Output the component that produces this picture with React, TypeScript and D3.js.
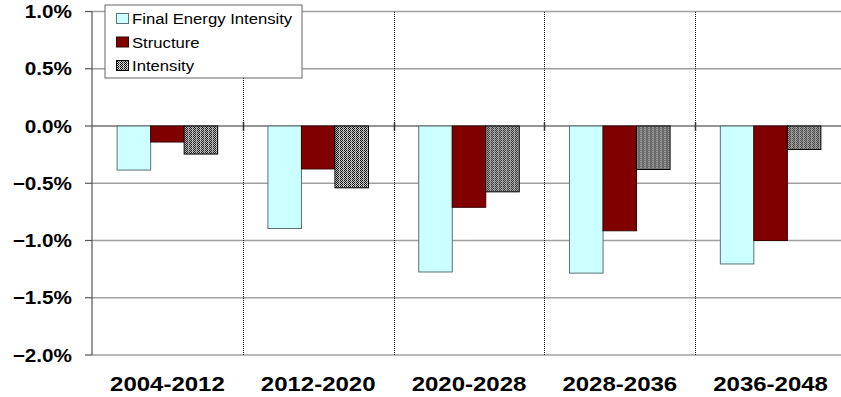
import React from 'react';
import * as d3 from 'd3';

const W = 841;
const H = 397;
const MARGIN = { top: 11.5, bottom: 42, left: 92, right: -5 };

const categories = ['2004-2012', '2012-2020', '2020-2028', '2028-2036', '2036-2048'];
const seriesNames = ['Final Energy Intensity', 'Structure', 'Intensity'];
const finalEnergyIntensity = [-0.385, -0.895, -1.275, -1.285, -1.205];
const structure = [-0.14, -0.375, -0.71, -0.915, -1.0];
const intensity = [-0.245, -0.54, -0.575, -0.38, -0.205];
const yTicks = [-2.0, -1.5, -1.0, -0.5, 0.0, 0.5, 1.0];

const FONT = '"Liberation Sans", Arial, sans-serif';
const STRETCH = 1.15;

export default function App() {
  const series = [finalEnergyIntensity, structure, intensity];

  const y = d3.scaleLinear().domain([-2, 1]).range([H - MARGIN.bottom, MARGIN.top]);
  const x0 = d3
    .scaleBand<string>()
    .domain(categories)
    .range([MARGIN.left, W - MARGIN.right])
    .paddingInner(1 / 3)
    .paddingOuter(1 / 6);
  const x1 = d3.scaleBand<string>().domain(seriesNames).range([0, x0.bandwidth()]);
  const step = x0.step();
  const fmt = d3.format('.1f');

  const fills = ['#ccffff', '#800000', 'url(#checker)'];
  const strokes = ['#587373', '#3a0000', '#000'];

  // dotted separators between category groups, snapped to pixel
  const boundaries = categories
    .slice(1)
    .map((c) => Math.round((x0(c) ?? 0) - (step - x0.bandwidth()) / 2) + 0.5);
  const y0 = y(0);

  return (
    <svg
      width={W}
      height={H}
      viewBox={`0 0 ${W} ${H}`}
      style={{ position: 'absolute', left: 0, top: 0, background: '#fff' }}
    >
      <defs>
        <pattern id="checker" width={4} height={2} patternUnits="userSpaceOnUse">
          <rect width={4} height={2} fill="#999" />
          <rect x={0} y={0} width={1} height={1} fill="#000" />
          <rect x={2} y={0} width={1} height={1} fill="#000" />
          <rect x={1} y={1} width={1} height={1} fill="#000" />
          <rect x={3} y={1} width={1} height={1} fill="#666" />
          <rect x={3} y={0} width={1} height={1} fill="#eee" />
          <rect x={1} y={0} width={1} height={1} fill="#ddd" />
          <rect x={0} y={1} width={1} height={1} fill="#ccc" />
          <rect x={2} y={1} width={1} height={1} fill="#ccc" />
        </pattern>
      </defs>

      {/* gridlines */}
      {yTicks.map((t) => (
        <line
          key={t}
          x1={MARGIN.left}
          x2={W}
          y1={y(t)}
          y2={y(t)}
          stroke={t === 0 ? '#707070' : '#a0a0a0'}
          strokeWidth={1.5}
        />
      ))}

      {/* category separators */}
      {boundaries.map((bx, i) => (
        <g key={i}>
          <line
            x1={bx}
            x2={bx}
            y1={Math.round(y(1))}
            y2={Math.round(y(-2))}
            stroke="#111"
            strokeWidth={1}
            strokeDasharray="1,1"
          />
          <line x1={bx} x2={bx} y1={y0 - 4} y2={y0 + 5} stroke="#333" strokeWidth={1.5} />
        </g>
      ))}

      {/* bars */}
      {categories.map((c, ci) => (
        <g key={c} transform={`translate(${x0(c)},0)`}>
          {series.map((vals, si) => {
            const v = vals[ci];
            return (
              <rect
                key={si}
                x={x1(seriesNames[si])}
                y={Math.min(y(v), y0)}
                width={x1.bandwidth()}
                height={Math.abs(y(v) - y0)}
                fill={fills[si]}
                stroke={strokes[si]}
                strokeWidth={1}
              />
            );
          })}
        </g>
      ))}

      {/* y axis */}
      <line x1={MARGIN.left} x2={MARGIN.left} y1={y(1)} y2={y(-2)} stroke="#555" strokeWidth={1.2} />
      {yTicks.map((t) => (
        <g key={t}>
          <line x1={MARGIN.left - 7} x2={MARGIN.left} y1={y(t)} y2={y(t)} stroke="#555" strokeWidth={1.2} />
          <text
            transform={`translate(72,${y(t) + 6.5}) scale(${STRETCH},1)`}
            textAnchor="end"
            fontFamily={FONT}
            fontWeight="bold"
            fontSize={18}
            fill="#000"
          >
            {fmt(t)}%
          </text>
        </g>
      ))}

      {/* x labels */}
      {categories.map((c) => (
        <text
          key={c}
          transform={`translate(${(x0(c) ?? 0) + x0.bandwidth() / 2},391) scale(${STRETCH + 0.05},1)`}
          textAnchor="middle"
          fontFamily={FONT}
          fontWeight="bold"
          fontSize={20}
          fill="#000"
        >
          {c}
        </text>
      ))}

      {/* legend */}
      <g>
        <rect x={105} y={5} width={197} height={73} fill="#fff" stroke="#666" strokeWidth={1} />
        {seriesNames.map((s, i) => {
          const cy = 18.5 + i * 23.5;
          return (
            <g key={s}>
              <rect
                x={116.5}
                y={cy - 5}
                width={12}
                height={10}
                fill={fills[i]}
                stroke={strokes[i]}
                strokeWidth={1}
              />
              <text
                transform={`translate(132,${cy + 5.5}) scale(${STRETCH},1)`}
                fontFamily={FONT}
                fontSize={14.5}
                fill="#000"
              >
                {s}
              </text>
            </g>
          );
        })}
      </g>
    </svg>
  );
}
